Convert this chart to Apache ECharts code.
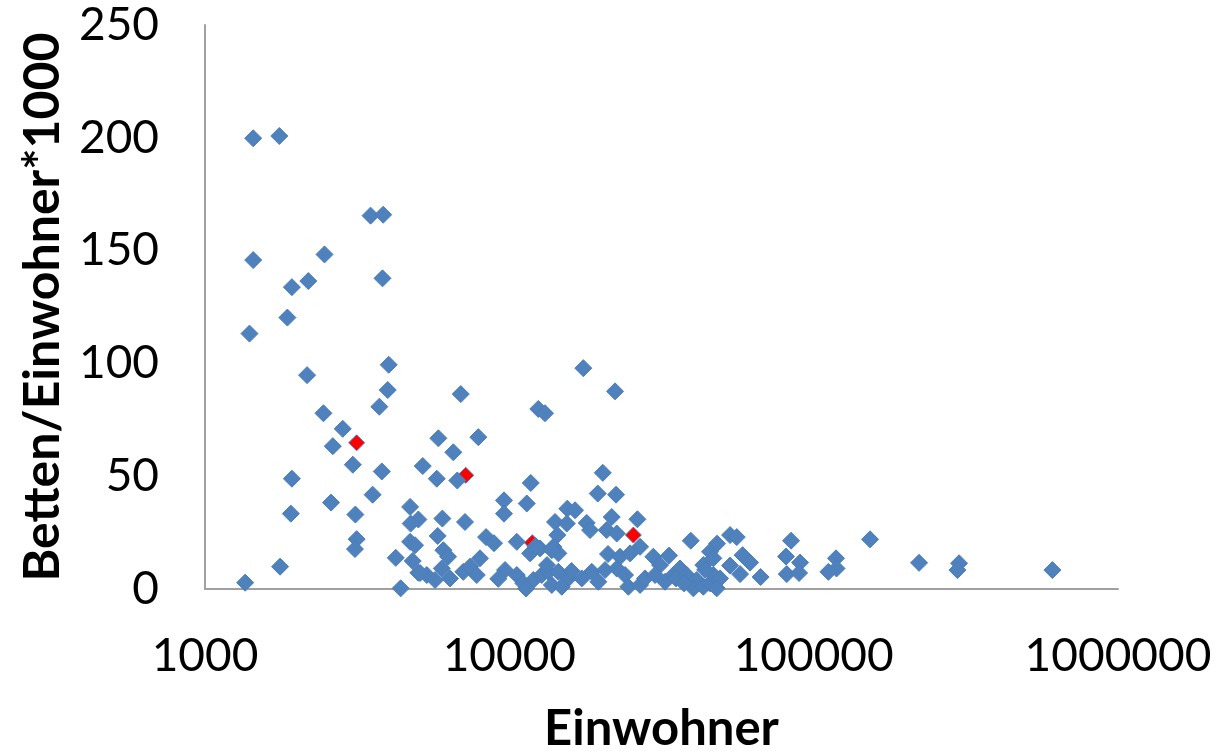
<!DOCTYPE html>
<html>
<head>
<meta charset="utf-8">
<script src="https://cdn.jsdelivr.net/npm/echarts@6/dist/echarts.min.js"></script>
<style>
html,body{margin:0;padding:0;background:#fff;}
#chart{width:1217px;height:751px;}
</style>
</head>
<body>
<div id="chart"></div>
<script>
// Einwohner (x) and Betten/Einwohner*1000 (y) for the blue markers
const einwohnerBlue = [1440,1755,3500,3850,1440,2470,3830,2185,1930,1865,1400,4015,2165,3985,3740,2450,2835,2630,3060,3810,5845,5195,5775,1930,3555,2595,1915,3120,4720,5025,4740,6025,3150,3110,5815,4720,4900,4235,4815,5025,1765,1355,4395,17500,22250,6925,12450,13100,7910,6545,6745,20280,11760,19520,22420,9605,9605,11410,15510,16440,21700,26350,14130,15440,17960,18420,7150,8385,8905,10580,14380,20890,22540,26890,6070,6290,11700,12620,13950,14490,21100,23110,24930,29730,6000,6385,7060,7430,8010,7815,5355,9680,10580,11120,11990,12780,13440,11350,13790,31280,13300,14490,15630,17300,18660,19610,20630,22540,24000,24610,26890,27920,30120,32490,34590,13790,14870,39460,53130,55890,48140,84270,33480,45650,46810,43400,58400,61800,53130,57300,66930,81160,90230,81590,89540,36390,35300,38280,41290,40250,43400,45650,46810,49250,48040,118400,118900,111800,153200,222000,300500,296700,608700,5700,5090,12200,16000,9200,44000,37500];
const bettenBlue = [199.8,200.8,165.5,165.9,145.8,148.3,137.7,136.5,133.8,120.3,113.2,99.4,94.8,88.2,80.8,77.9,71.0,63.3,55.1,52.1,66.8,54.5,48.9,48.9,41.8,38.3,33.4,33.0,36.4,30.8,29.0,31.2,22.1,17.7,23.5,20.9,19.4,13.8,12.4,7.2,9.9,2.8,0.3,97.9,87.6,86.4,79.8,77.9,67.3,60.6,48.1,51.5,47.0,42.3,41.8,39.3,33.4,37.9,35.6,34.9,31.9,30.9,29.7,29.0,29.3,26.1,29.7,23.0,20.3,20.9,23.9,26.1,24.6,18.7,17.2,14.3,15.8,18.0,18.7,15.8,15.5,14.3,15.8,14.3,9.1,4.7,7.6,9.9,13.6,6.2,6.2,8.4,6.2,2.5,4.0,6.2,7.6,0.2,17.2,10.6,10.6,7.6,4.7,4.7,7.6,3.2,8.4,9.1,6.2,1.0,1.8,4.7,6.2,3.2,6.2,1.8,1.0,21.4,23.9,23.0,20.1,21.4,14.8,16.5,13.6,10.6,15.0,11.7,10.4,6.6,5.3,14.4,11.7,6.6,7.1,9.1,4.7,6.2,4.0,0.3,1.0,2.5,6.2,4.7,0.3,13.6,9.1,7.6,22.0,11.6,11.4,8.4,8.4,4.0,7.1,19.0,8.0,4.5,8.5,2.5];
// highlighted (red) markers
const einwohnerRed = [3150,7190,11900,25560];
const bettenRed = [64.8,50.4,20.5,23.9];
// axis ticks
const xTicks = [1000,10000,100000,1000000];
const yTicks = [0,50,100,150,200,250];

const FONT = 'Lato, "Open Sans", sans-serif';
const pairs = (xs, ys) => xs.map((x, i) => [x, ys[i]]);

const chart = echarts.init(document.getElementById('chart'));
chart.setOption({
  animation: false,
  backgroundColor: '#ffffff',
  grid: { left: 205, right: 99, top: 25, bottom: 162, containLabel: false, outerBoundsMode: 'none' },
  xAxis: {
    type: 'log',
    logBase: 10,
    min: xTicks[0],
    max: xTicks[xTicks.length - 1],
    name: 'Einwohner',
    nameLocation: 'middle',
    nameGap: 116,
    nameTextStyle: { fontFamily: FONT, fontSize: 49, fontWeight: 'bold', color: '#000' },
    axisLine: { show: true, lineStyle: { color: '#a0a0a0', width: 2 } },
    axisTick: { show: false },
    splitLine: { show: false },
    axisLabel: {
      fontFamily: FONT, fontSize: 46, color: '#000', margin: 44,
      formatter: v => String(Math.round(v))
    }
  },
  yAxis: {
    type: 'value',
    min: yTicks[0],
    max: yTicks[yTicks.length - 1],
    interval: 50,
    name: 'Betten/Einwohner*1000',
    nameLocation: 'middle',
    nameGap: 128,
    nameRotate: 90,
    nameTextStyle: { fontFamily: FONT, fontSize: 50, fontWeight: 'bold', color: '#000' },
    axisLine: { show: true, lineStyle: { color: '#a0a0a0', width: 2 } },
    axisTick: { show: false },
    splitLine: { show: false },
    axisLabel: { fontFamily: FONT, fontSize: 46, color: '#000', margin: 46 }
  },
  series: [
    {
      type: 'scatter',
      symbol: 'diamond',
      symbolSize: 16,
      data: pairs(einwohnerRed, bettenRed),
      itemStyle: { color: '#ff0000', borderColor: '#4F81BD', borderWidth: 1, opacity: 1 },
      z: 2
    },
    {
      type: 'scatter',
      symbol: 'diamond',
      symbolSize: 17,
      data: pairs(einwohnerBlue, bettenBlue),
      itemStyle: { color: '#4F81BD', borderColor: '#4A7EBB', borderWidth: 1, opacity: 1 },
      z: 3
    }
  ]
});
</script>
</body>
</html>
